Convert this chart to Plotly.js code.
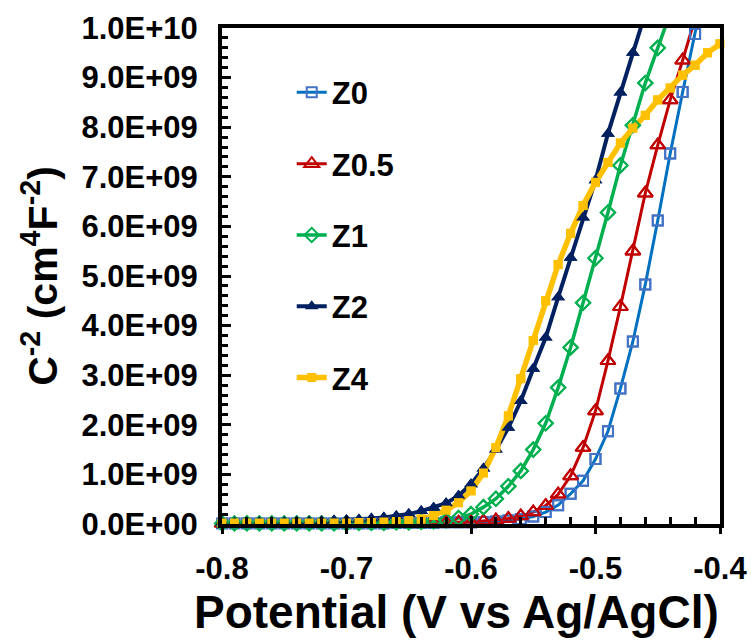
<!DOCTYPE html>
<html>
<head>
<meta charset="utf-8">
<script src="https://cdn.plot.ly/plotly-3.0.1.min.js"></script>
<style>
html,body{margin:0;padding:0;background:#fff;}
#chart{width:753px;height:642px;}
</style>
</head>
<body>
<div id="chart"></div>
<script>
// Potential (V vs Ag/AgCl)
const potential = [-0.80,-0.79,-0.78,-0.77,-0.76,-0.75,-0.74,-0.73,-0.72,-0.71,
  -0.70,-0.69,-0.68,-0.67,-0.66,-0.65,-0.64,-0.63,-0.62,-0.61,
  -0.60,-0.59,-0.58,-0.57,-0.56,-0.55,-0.54,-0.53,-0.52,-0.51,
  -0.50,-0.49,-0.48,-0.47,-0.46,-0.45,-0.44,-0.43,-0.42,-0.41,-0.40];

// C^-2 values (cm^4 F^-2)
const z0 = [0.01e9,0.01e9,0.01e9,0.01e9,0.01e9,0.01e9,0.01e9,0.01e9,0.01e9,0.01e9,
  0.01e9,0.01e9,0.01e9,0.01e9,0.02e9,0.02e9,0.02e9,0.02e9,0.03e9,0.03e9,
  0.03e9,0.04e9,0.05e9,0.07e9,0.10e9,0.15e9,0.24e9,0.38e9,0.61e9,0.87e9,
  1.31e9,1.87e9,2.73e9,3.68e9,4.83e9,6.12e9,7.47e9,8.71e9,9.88e9,11.1e9];
const z05 = [0.01e9,0.01e9,0.01e9,0.01e9,0.01e9,0.01e9,0.01e9,0.01e9,0.01e9,0.01e9,
  0.01e9,0.01e9,0.01e9,0.01e9,0.01e9,0.02e9,0.02e9,0.02e9,0.03e9,0.03e9,
  0.04e9,0.06e9,0.08e9,0.11e9,0.16e9,0.24e9,0.37e9,0.60e9,0.97e9,1.54e9,
  2.28e9,3.29e9,4.38e9,5.50e9,6.67e9,7.64e9,8.55e9,9.35e9,10.2e9];
const z1 = [0.01e9,0.01e9,0.01e9,0.01e9,0.01e9,0.01e9,0.01e9,0.01e9,0.01e9,0.01e9,
  0.01e9,0.02e9,0.02e9,0.02e9,0.03e9,0.03e9,0.04e9,0.05e9,0.07e9,0.12e9,
  0.20e9,0.34e9,0.51e9,0.76e9,1.07e9,1.50e9,2.03e9,2.75e9,3.56e9,4.46e9,
  5.36e9,6.28e9,7.23e9,8.04e9,8.89e9,9.60e9,10.3e9];
const z2 = [0.03e9,0.03e9,0.03e9,0.04e9,0.04e9,0.04e9,0.05e9,0.05e9,0.06e9,0.07e9,
  0.08e9,0.09e9,0.11e9,0.13e9,0.16e9,0.20e9,0.26e9,0.33e9,0.42e9,0.57e9,
  0.80e9,1.12e9,1.50e9,1.94e9,2.48e9,3.13e9,3.76e9,4.57e9,5.37e9,6.18e9,
  6.93e9,7.87e9,8.70e9,9.50e9,10.3e9];
const z4 = [0.02e9,0.02e9,0.02e9,0.02e9,0.02e9,0.02e9,0.02e9,0.02e9,0.02e9,0.02e9,
  0.02e9,0.03e9,0.03e9,0.04e9,0.05e9,0.07e9,0.10e9,0.17e9,0.28e9,0.43e9,
  0.67e9,1.03e9,1.54e9,2.18e9,2.93e9,3.70e9,4.50e9,5.23e9,5.86e9,6.42e9,
  6.89e9,7.29e9,7.68e9,7.98e9,8.24e9,8.55e9,8.79e9,9.05e9,9.25e9,9.50e9,9.68e9];

const seriesNames = ['Z0','Z0.5','Z1','Z2','Z4'];
const xTickVals = [-0.8,-0.7,-0.6,-0.5,-0.4];
const xTickText = ['-0.8','-0.7','-0.6','-0.5','-0.4'];
const yTickVals = [0,1e9,2e9,3e9,4e9,5e9,6e9,7e9,8e9,9e9,1e10];
const yTickText = ['0.0E+00','1.0E+09','2.0E+09','3.0E+09','4.0E+09','5.0E+09','6.0E+09','7.0E+09','8.0E+09','9.0E+09','1.0E+10'];
const xTitle = 'Potential (V vs Ag/AgCl)';
const yTitle = 'C<sup>-2</sup> (cm<sup>4</sup>F<sup>-2</sup>)';

const YMAX = 1e10;
const FONT = 'Liberation Sans, Arial, sans-serif';

const styles = [
  {line:'rgb(0,112,192)', lw:3, marker:{symbol:'square-open', size:10, color:'rgb(68,114,196)', line:{width:2, color:'rgb(68,114,196)'}}},
  {line:'rgb(192,0,0)', lw:3, marker:{symbol:'triangle-up-open', size:13, color:'rgb(192,0,0)', line:{width:2, color:'rgb(192,0,0)'}}},
  {line:'rgb(0,176,80)', lw:3.5, marker:{symbol:'diamond-open', size:11, color:'rgb(0,176,80)', line:{width:2, color:'rgb(0,176,80)'}}},
  {line:'rgb(0,32,96)', lw:4, marker:{symbol:'triangle-up', size:12, color:'rgb(0,32,96)', line:{width:0}}},
  {line:'rgb(255,192,0)', lw:5.5, marker:{symbol:'square', size:9, color:'rgb(255,192,0)', line:{width:0}}}
];
const values = [z0, z05, z1, z2, z4];

const traces = [];
values.forEach((ys, i) => {
  const xs = potential.slice(0, ys.length);
  traces.push({
    type:'scatter', mode:'lines+markers', name:seriesNames[i],
    x:xs, y:ys, legendgroup:'g'+i,
    line:{color:styles[i].line, width:styles[i].lw},
    marker:styles[i].marker,
    cliponaxis:true
  });
});
// unclipped markers for points inside range
values.forEach((ys, i) => {
  const xs = [], yv = [];
  ys.forEach((v, k) => { if (v <= YMAX) { xs.push(potential[k]); yv.push(v); } });
  traces.push({
    type:'scatter', mode:'markers', showlegend:false, hoverinfo:'skip',
    x:xs, y:yv, xaxis:'x2',
    marker:styles[i].marker, cliponaxis:false
  });
});

const layout = {
  width:753, height:642,
  margin:{l:222, r:33, t:28, b:118},
  paper_bgcolor:'#fff', plot_bgcolor:'#fff',
  font:{family:FONT, color:'#000'},
  showlegend:true,
  legend:{
    x:0.14, y:0.924, xanchor:'left', yanchor:'top',
    bgcolor:'rgba(0,0,0,0)', borderwidth:0,
    font:{family:FONT, size:31, color:'#000', weight:'bold'},
    traceorder:'grouped', tracegroupgap:28
  },
  annotations:[{
    text:xTitle, xref:'paper', yref:'paper', x:0.47, y:-0.178,
    xanchor:'center', yanchor:'middle', showarrow:false,
    font:{family:FONT, size:46, color:'#000', weight:'bold'}
  }],
  xaxis:{
    range:[-0.8,-0.4], tickmode:'array', tickvals:xTickVals, ticktext:xTickText,
    ticks:'inside', ticklen:8, tickwidth:3, tickcolor:'#000',
    minor:{tickmode:'linear', tick0:-0.8, dtick:0.02, ticks:'inside', ticklen:7, tickwidth:3, tickcolor:'#000', showgrid:false},
    showline:true, linewidth:4, linecolor:'#000', mirror:true,
    showgrid:false, zeroline:false,
    tickfont:{family:FONT, size:31, color:'#000', weight:'bold'},
    ticklabelstandoff:14
  },
  xaxis2:{
    range:[-0.8,-0.4], overlaying:'x', anchor:'y', side:'bottom',
    tickmode:'array', tickvals:xTickVals, ticks:'outside', ticklen:9, tickwidth:3, tickcolor:'#000',
    showticklabels:false, showline:false, showgrid:false, zeroline:false
  },
  yaxis:{
    range:[0,1e10], tickmode:'array', tickvals:yTickVals, ticktext:yTickText,
    ticks:'inside', ticklen:9, tickwidth:3, tickcolor:'#000',
    minor:{tickmode:'linear', tick0:0, dtick:2e8, ticks:'inside', ticklen:6, tickwidth:3, tickcolor:'#000', showgrid:false},
    showline:true, linewidth:4, linecolor:'#000', mirror:true,
    showgrid:false, zeroline:false,
    tickfont:{family:FONT, size:31, color:'#000', weight:'bold'},
    ticklabelstandoff:14,
    title:{text:yTitle, font:{family:FONT, size:41, color:'#000', weight:'bold'}, standoff:12}
  }
};

Plotly.newPlot('chart', traces, layout, {displayModeBar:false, staticPlot:true});
</script>
</body>
</html>
